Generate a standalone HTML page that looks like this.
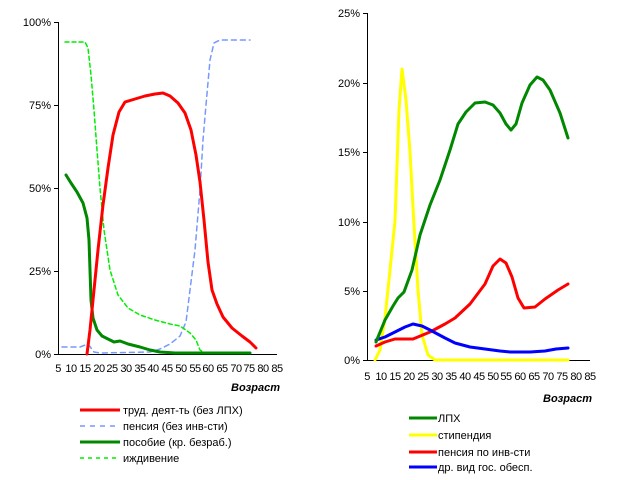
<html><body style="margin:0;background:#fff">
<svg width="622" height="480" xmlns="http://www.w3.org/2000/svg" font-family="Liberation Sans, sans-serif" font-size="11">
<g stroke="#000" stroke-width="1" fill="none">
<path d="M58.5 22V354.5H277"/>
<path d="M54 22.5h4M54 105.5h4M54 188.5h4M54 271.5h4M54 354.5h4"/>
<path d="M367.5 13V360.5H590"/>
<path d="M363 13.5h4M363 83.5h4M363 152.5h4M363 222.5h4M363 291.5h4M363 360.5h4"/>
</g>
<g text-anchor="end">
<text x="51" y="26">100%</text><text x="51" y="109">75%</text><text x="51" y="192">50%</text><text x="51" y="275">25%</text><text x="51" y="358">0%</text>
<text x="360" y="17">25%</text><text x="360" y="87">20%</text><text x="360" y="156">15%</text><text x="360" y="226">10%</text><text x="360" y="295">5%</text><text x="360" y="364">0%</text>
</g>
<g text-anchor="middle" letter-spacing="-0.5">
<text x="58" y="372">5</text><text x="71" y="372">10</text><text x="85" y="372">15</text><text x="99" y="372">20</text><text x="112" y="372">25</text><text x="126" y="372">30</text><text x="140" y="372">35</text><text x="153" y="372">40</text><text x="167" y="372">45</text><text x="181" y="372">50</text><text x="195" y="372">55</text><text x="208" y="372">60</text><text x="222" y="372">65</text><text x="236" y="372">70</text><text x="249" y="372">75</text><text x="263" y="372">80</text><text x="277" y="372">85</text>
<text x="367" y="380">5</text><text x="381" y="380">10</text><text x="395" y="380">15</text><text x="409" y="380">20</text><text x="423" y="380">25</text><text x="437" y="380">30</text><text x="451" y="380">35</text><text x="465" y="380">40</text><text x="479" y="380">45</text><text x="493" y="380">50</text><text x="506" y="380">55</text><text x="520" y="380">60</text><text x="534" y="380">65</text><text x="548" y="380">70</text><text x="562" y="380">75</text><text x="576" y="380">80</text><text x="590" y="380">85</text>
</g>
<text x="231" y="391" font-weight="bold" font-style="italic">Возраст</text>
<text x="543" y="402" font-weight="bold" font-style="italic">Возраст</text>
<g fill="none" stroke-linejoin="round" stroke-linecap="round">
<polyline stroke="#ff0" stroke-width="3" points="375,360 380,350 385,318 390,270 395,221 399,110 402,69 406,100 410,152 414,225 418,290 422,335 428,355 435,360 568,360"/>
<polyline stroke="#f00" stroke-width="3" points="376,346 385,342 395,339 413,339 430,332 445,324 455,318 470,304 485,284 493,266 500,259 506,263 512,277 518,298 524,308 535,307 545,299 558,290 568,284"/>
<polyline stroke="#00f" stroke-width="3" points="376,340 385,337 395,332 405,327 413,324 422,326 430,330 445,338 455,343 470,347 485,349 500,351 510,352 530,352 545,351 556,349 568,348"/>
<polyline stroke="#080" stroke-width="3" points="376,342 385,320 393,306 398,298 404,292 412,270 420,235 430,205 440,180 450,150 458,124 466,112 475,103 485,102 493,105 500,113 506,124 511,130 516,124 522,103 530,85 537,77 543,80 550,90 560,113 568,138"/>
<polyline stroke="#7799ff" stroke-width="1.5" stroke-dasharray="5,4" points="62,347 80,347 88,344 94,352 100,353 150,352 160,349 170,344 180,336 186,322 190,290 195,250 200,190 203,140 206,105 210,60 214,43 220,40 250,40"/>
<polyline stroke="#00ee00" stroke-width="1.5" stroke-dasharray="4,3" points="65,42 85,42 88,48 91,75 94,110 97,150 100,188 104,230 110,270 118,295 128,308 140,315 155,320 170,324 180,326 190,333 196,340 200,350 205,353 250,353"/>
<polyline stroke="#080" stroke-width="3" points="66,175 71,183 77,192 83,203 87,218 89,240 90,270 91,300 93,318 97,330 102,336 108,339 114,342 120,341 128,344 140,347 150,350 160,352 175,353 250,353"/>
<polyline stroke="#f00" stroke-width="3" points="87,354 90,330 94,290 98,250 103,205 108,168 113,135 119,112 125,102 135,99 145,96 155,94 163,93 170,96 178,103 185,113 191,130 196,155 200,182 204,220 208,262 212,290 217,304 223,317 232,328 242,336 250,342 256,348"/>
</g>
<g stroke-width="3">
<line x1="80" y1="410" x2="120" y2="410" stroke="#f00"/>
<line x1="80" y1="426" x2="120" y2="426" stroke="#7799ff" stroke-width="1.5" stroke-dasharray="5,5"/>
<line x1="80" y1="442" x2="120" y2="442" stroke="#080"/>
<line x1="80" y1="458" x2="120" y2="458" stroke="#00ee00" stroke-width="1.5" stroke-dasharray="4,4"/>
<line x1="409" y1="418" x2="437" y2="418" stroke="#080"/>
<line x1="409" y1="435" x2="437" y2="435" stroke="#ff0"/>
<line x1="409" y1="452" x2="437" y2="452" stroke="#f00"/>
<line x1="409" y1="467" x2="437" y2="467" stroke="#00f"/>
</g>
<text x="123" y="414">труд. деят-ть (без ЛПХ)</text>
<text x="123" y="430">пенсия (без инв-сти)</text>
<text x="123" y="446">пособие (кр. безраб.)</text>
<text x="123" y="462">иждивение</text>
<text x="438" y="422">ЛПХ</text>
<text x="438" y="439">стипендия</text>
<text x="438" y="456">пенсия по инв-сти</text>
<text x="438" y="471">др. вид гос. обесп.</text>
</svg>
</body></html>
